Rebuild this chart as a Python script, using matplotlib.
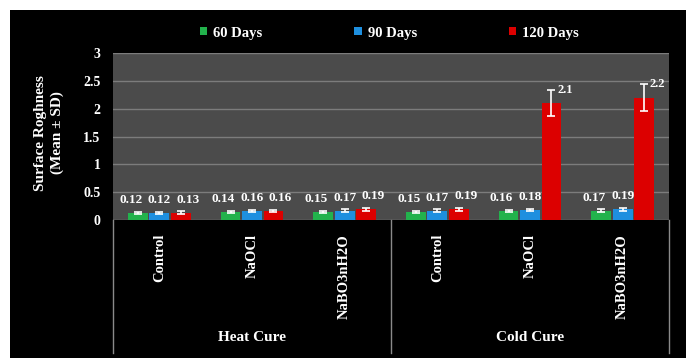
import matplotlib
matplotlib.use("Agg")
import matplotlib.pyplot as plt
from matplotlib.patches import Rectangle
from matplotlib.lines import Line2D
import numpy as np

# Data
treatments = ["Control", "NaOCl", "NaBO3nH2O", "Control", "NaOCl", "NaBO3nH2O"]
cure_groups = ["Heat Cure", "Cold Cure"]
series_names = ["60 Days", "90 Days", "120 Days"]
days60 = [0.12, 0.14, 0.15, 0.15, 0.16, 0.17]
days90 = [0.12, 0.16, 0.17, 0.17, 0.18, 0.19]
days120 = [0.13, 0.16, 0.19, 0.19, 2.1, 2.2]
sd60 = [0.02, 0.02, 0.02, 0.02, 0.02, 0.02]
sd90 = [0.02, 0.02, 0.02, 0.02, 0.02, 0.02]
sd120 = [0.03, 0.02, 0.03, 0.03, 0.23, 0.25]
yticks = [0, 0.5, 1, 1.5, 2, 2.5, 3]
ytick_labels = ["0", "0.5", "1", "1.5", "2", "2.5", "3"]

colors = ["#22b24c", "#1e8fdf", "#dc0000"]
serif = "Liberation Serif"

W, H = 686, 360
fig = plt.figure(figsize=(W / 100, H / 100), dpi=100)
fig.patch.set_facecolor("white")

# black chart panel
fig.patches.append(Rectangle((10 / W, 1 - 358 / H), (W - 10) / W, 348 / H,
                             transform=fig.transFigure, facecolor="black",
                             edgecolor="none", zorder=-10))

ax_l, ax_r, ax_t, ax_b = 113, 669, 53, 220
ax = fig.add_axes([ax_l / W, 1 - ax_b / H, (ax_r - ax_l) / W, (ax_b - ax_t) / H])
ax.set_zorder(1)
ax.set_facecolor("#4b4b4b")
ax.set_ylim(0, 3)
ax.set_xlim(-0.5, len(treatments) - 0.5)
ax.set_yticks(yticks)
ax.set_yticklabels(ytick_labels)
ax.yaxis.grid(True, color="#7c7c7c", linewidth=1.0)
ax.set_axisbelow(True)
for s in ax.spines.values():
    s.set_visible(False)
ax.tick_params(axis="y", length=0, pad=9, labelcolor="white", labelsize=10)
for t in ax.get_yticklabels():
    t.set_fontfamily(serif)
    t.set_fontweight("bold")

x = np.arange(len(treatments))
width = 0.215
offsets = [-0.232, 0.0, 0.232]
label_dx = [-5, 0, 5]
all_vals = [days60, days90, days120]
all_sd = [sd60, sd90, sd120]
for i, (vals, sds) in enumerate(zip(all_vals, all_sd)):
    xs = x + offsets[i]
    ax.bar(xs, vals, width=width, color=colors[i], label=series_names[i], zorder=2)
    ax.errorbar(xs, vals, yerr=sds, fmt="none", ecolor="white", elinewidth=1.2,
                capsize=3, capthick=1.2, zorder=3)
    for xi, v, sd in zip(xs, vals, sds):
        if v > 1:
            ax.annotate(f"{v:g}", (xi, v + sd), xytext=(4, 0), textcoords="offset points",
                        ha="left", va="center", color="white", fontsize=9,
                        fontweight="bold", family=serif, zorder=4)
        else:
            ax.annotate(f"{v:g}", (xi, v), xytext=(label_dx[i], 5),
                        textcoords="offset points", ha="center", va="bottom",
                        color="white", fontsize=9.5, fontweight="bold", family=serif,
                        zorder=4)

# category labels
ax.set_xticks(x)
ax.set_xticklabels(treatments, rotation=90, va="top", ha="center")
ax.tick_params(axis="x", length=0, pad=10, labelcolor="white", labelsize=10.5)
for t in ax.get_xticklabels():
    t.set_fontfamily(serif)
    t.set_fontweight("bold")

# group labels and dividers
trans = ax.get_xaxis_transform()
for g, name in enumerate(cure_groups):
    ax.text(g * 3 + 1, -(337 - ax_b) / (ax_b - ax_t), name, transform=trans,
            ha="center", va="center", color="white", fontsize=11,
            fontweight="bold", family=serif)
for xd in [-0.5, 2.5, 5.5]:
    ax.add_line(Line2D([xd, xd], [0, -(353 - ax_b) / (ax_b - ax_t)], transform=trans,
                       color="#8a8a8a", linewidth=1.0, clip_on=False))

# y-axis title
fig.text(49 / W, 1 - 133 / H, "Surface Roghness\n(Mean \u00b1 SD)", rotation=90,
         ha="center", va="center", color="white", fontsize=11, fontweight="bold",
         family=serif, linespacing=1.25, multialignment="center")

# legend
leg = ax.legend(loc="center", bbox_to_anchor=(0.497, 1 + (53 - 33) / (ax_b - ax_t)),
                ncol=3, frameon=False, handlelength=0.5, handleheight=0.5,
                handletextpad=0.4, columnspacing=6.3,
                prop={"family": serif, "weight": "bold", "size": 10.5})
for t in leg.get_texts():
    t.set_color("white")

fig.savefig("out.png", dpi=100, facecolor=fig.get_facecolor())
